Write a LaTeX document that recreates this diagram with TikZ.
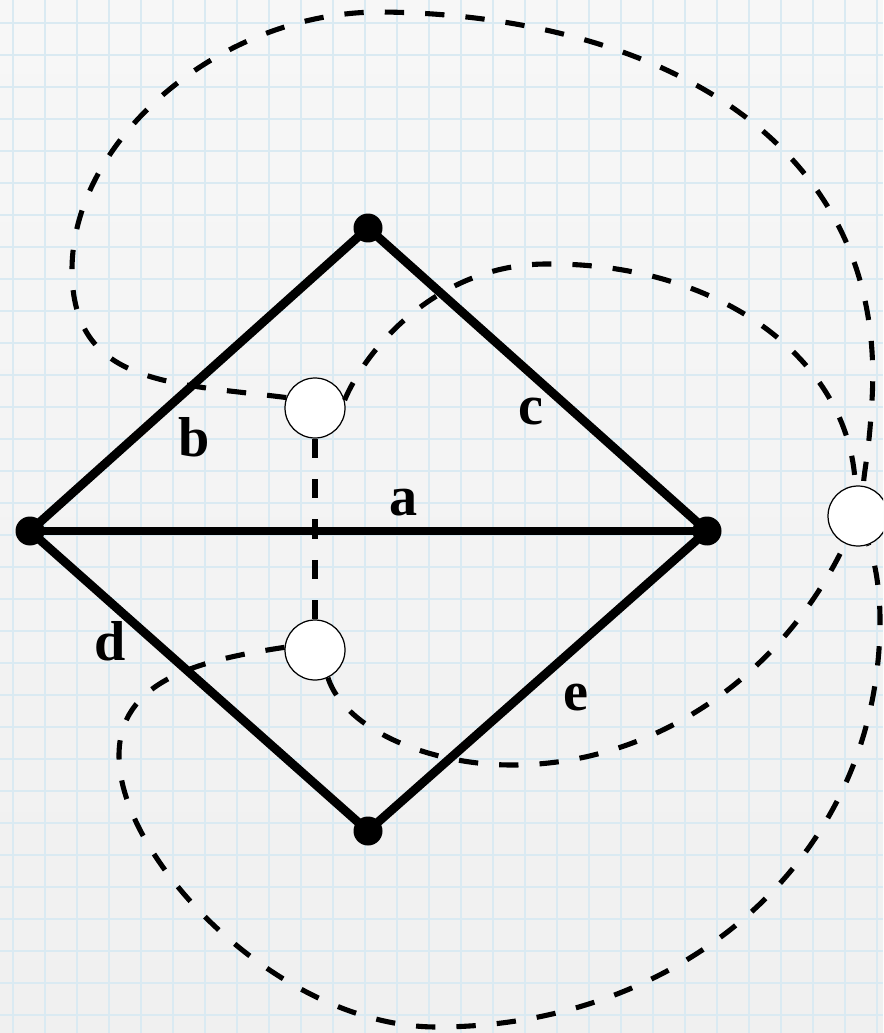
\documentclass[tikz,border=0pt]{standalone}
\usepackage{fontspec}
\setmainfont{Liberation Serif}
\definecolor{paperhigh}{RGB}{247,247,247}
\definecolor{paperlow}{RGB}{240,240,240}
\definecolor{gridblue}{RGB}{218,234,242}
\tikzset{
  vertex/.style={circle, fill=black, inner sep=0pt, minimum size=0.58cm},
  facenode/.style={circle, draw=black, fill=white, line width=0.7pt, inner sep=0pt, minimum size=1.2cm},
  primal/.style={line width=5pt},
  dual/.style={line width=2.9pt, dash pattern=on 11pt off 12pt},
  gridline/.style={gridblue, line width=0.7pt},
  lbl/.style={font=\fontsize{32}{36}\selectfont\bfseries, inner sep=0pt},
}
\begin{document}
\begin{tikzpicture}[x=0.02cm, y=-0.02cm]
    \useasboundingbox (0,0) rectangle (883,1033);
    \clip (0,0) rectangle (883,1033);
    % paper
    \shade[top color=paperhigh, bottom color=paperlow] (0,0) rectangle (883,1033);
    \foreach \x in {13,45,...,877} \draw[gridline] (\x,0) -- (\x,1033);
    \foreach \y in {23,55,...,1015} \draw[gridline] (0,\y) -- (883,\y);

    % vertices and edges
    \node[vertex] (west) at (30,531) {};
    \node[vertex] (north) at (368,228) {};
    \node[vertex] (east) at (707,531) {};
    \node[vertex] (south) at (368,831) {};
    \draw[primal] (west.center) -- (north.center) -- (east.center) -- (south.center) -- cycle;
    \draw[primal] (west.center) -- (east.center);

    % faces
    \node[facenode] (u) at (315,408) {};
    \node[facenode] (l) at (315,650) {};
    \node[facenode] (o) at (858,516) {};

    % dual edges
    \draw[dual] (u.160) .. controls (170,383) and (72,385) .. (72,270)
        .. controls (72,140) and (220,12) .. (380,12)
        .. controls (640,14) and (888,130) .. (872,400)
        .. controls (869,454) and (864,470) .. (o.80);
    \draw[dual] (u.15) .. controls (368,345) and (440,265) .. (545,264)
        .. controls (720,262) and (850,360) .. (o.95);
    \draw[dual] (u) -- (l);
    \draw[dual] (l.175) .. controls (200,660) and (118,680) .. (119,757)
        .. controls (120,860) and (280,1027) .. (437,1027)
        .. controls (680,1027) and (880,860) .. (880,620)
        .. controls (880,590) and (875,560) .. (o.-70);
    \draw[dual] (l.-65) .. controls (345,730) and (430,765) .. (512,765)
        .. controls (650,765) and (780,680) .. (o.-115);

    % labels
    \node[lbl] (la) at (404,503) {a};
    \node[lbl] (lb) at (194,437) {b};
    \node[lbl] (lc) at (531,412) {c};
    \node[lbl] (ld) at (110,641) {d};
    \node[lbl] (le) at (576,698) {e};
\end{tikzpicture}
\end{document}
